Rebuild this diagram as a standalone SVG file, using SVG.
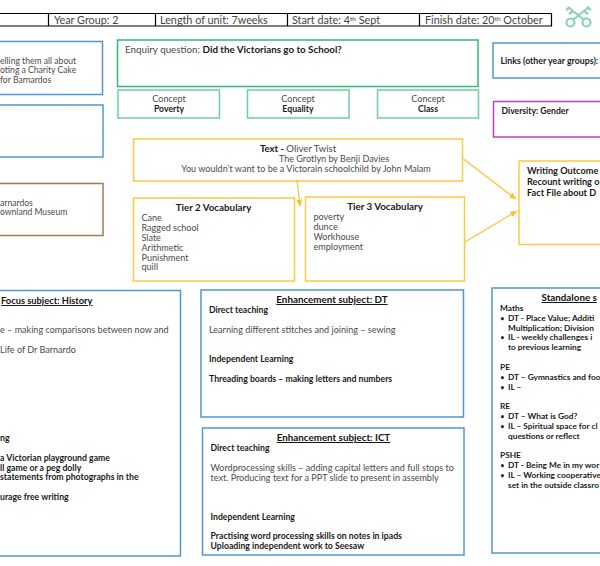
<svg xmlns="http://www.w3.org/2000/svg" width="600" height="566" viewBox="0 0 600 566">
<style>
text{font-family:"Lato","Open Sans","Liberation Sans",sans-serif;fill:#4a4a4a;font-size:9.05px}
.b{font-weight:700;fill:#1a1a1a;font-size:8.7px}
.u{text-decoration:underline;font-size:9.8px;font-weight:700;fill:#111}
.h{font-size:10.8px;fill:#444}
.m{text-anchor:middle}
.sup{font-size:6.5px}
.t{font-size:9.8px}
.w{font-size:9.2px}
.s{font-size:8.3px}
.l{font-size:8.6px}
.dot{font-size:6.5px}
.box{fill:#fff;stroke-width:1.5}
.blue{stroke:#4f97d3}.green{stroke:#2dbb72}.lg{stroke:#6fce9c}.yel{stroke:#fdc93f}.brown{stroke:#a07c52}.mag{stroke:#c03cc0}
.arrow{fill:none;stroke:#fcc02e;stroke-width:1.2;marker-end:url(#ah)}
.tline{fill:none;stroke:#000;stroke-width:1.2}
.logo{fill:none;stroke:#8fcfb8;stroke-width:2.2}
</style>
<defs><marker id="ah" markerWidth="8" markerHeight="7" refX="6.5" refY="3" orient="auto" markerUnits="userSpaceOnUse"><path d="M0 0L7 3L0 6z" fill="#fcc02e"/></marker></defs>
<rect width="600" height="566" fill="#fff"/>

<g id="header">
<path class="tline" d="M0 13.5H551.5V26H0M48.5 13.5V26M155.5 13.5V26M287.5 13.5V26M419.5 13.5V26"/>
<text class="h" x="54" y="24">Year Group: 2</text>
<text class="h" x="160" y="24">Length of unit: 7weeks</text>
<text class="h" x="292" y="24">Start date: 4<tspan class="sup" dy="-3">th</tspan><tspan dy="3"> Sept</tspan></text>
<text class="h" x="425" y="24">Finish date: 20<tspan class="sup" dy="-3">th</tspan><tspan dy="3"> October</tspan></text>
</g>

<g id="logo">
<circle class="logo" cx="570.5" cy="22.5" r="4"/><circle class="logo" cx="586.5" cy="22.5" r="4"/>
<path class="logo" d="M573.5 19.5L589 7M583.5 19.5L568 7M566 10L570 7M569 14L573 11M591 10L587 7M588 14L584 11"/>
</g>

<g id="hook"><rect class="box blue" x="-5" y="41.5" width="107.5" height="53"/>
<text class="l" x="0" y="64">elling them all about</text><text class="l" x="0" y="73">oting a Charity Cake</text><text class="l" x="0" y="83">for Barnardos</text></g>
<g id="box-left-2"><rect class="box blue" x="-5" y="105" width="108" height="52"/></g>
<g id="visits"><rect class="box brown" x="-5" y="183.5" width="108" height="52"/>
<text class="l" x="0" y="206">arnardos</text><text class="l" x="0" y="215">ownland Museum</text></g>

<g id="enquiry"><rect class="box green" x="117.5" y="40" width="360.5" height="46.5"/>
<text x="125" y="53" style="font-size:9.8px">Enquiry question: <tspan class="b" style="font-size:9.8px">Did the Victorians go to School?</tspan></text></g>
<g id="concept-poverty"><rect class="box lg" x="118" y="90" width="101.5" height="28"/>
<text class="m" x="169" y="102">Concept</text><text class="m b" x="169" y="112">Poverty</text></g>
<g id="concept-equality"><rect class="box lg" x="247.5" y="90" width="101.5" height="28"/>
<text class="m" x="298" y="102">Concept</text><text class="m b" x="298" y="112">Equality</text></g>
<g id="concept-class"><rect class="box lg" x="377.5" y="90" width="101" height="28"/>
<text class="m" x="428" y="102">Concept</text><text class="m b" x="428" y="112">Class</text></g>

<g id="links"><rect class="box blue" x="493" y="43" width="112" height="35"/>
<text class="b" x="500.5" y="64" style="font-size:8.8px">Links (other year groups):</text></g>
<g id="diversity"><rect class="box mag" x="493.5" y="101.5" width="112" height="35.5"/>
<text class="b" x="501.5" y="114" style="font-size:8.6px">Diversity: Gender</text></g>

<g id="text-box"><rect class="box yel" x="133.5" y="139" width="329" height="42"/>
<text class="m" x="298" y="152" style="font-size:9.6px"><tspan class="b" style="font-size:9.6px">Text  - </tspan>Oliver Twist</text>
<text class="m" x="334" y="162">The Grotlyn by Benji Davies</text>
<text class="m" x="306" y="172">You wouldn’t want to be a Victorain schoolchild by John Malam</text></g>

<g id="tier2"><rect class="box yel" x="133.5" y="198" width="161" height="83"/>
<text class="m b t" x="213.5" y="211">Tier 2 Vocabulary</text>
<text x="141.5" y="221">Cane</text><text x="141.5" y="231">Ragged school</text><text x="141.5" y="241">Slate</text><text x="141.5" y="251">Arithmetic</text><text x="141.5" y="261">Punishment</text><text x="141.5" y="270">quill</text></g>

<g id="tier3"><rect class="box yel" x="305.5" y="197" width="159" height="84"/>
<text class="m b t" x="385" y="210">Tier 3 Vocabulary</text>
<text x="313.5" y="220">poverty</text><text x="313.5" y="230">dunce</text><text x="313.5" y="240">Workhouse</text><text x="313.5" y="250">employment</text></g>

<g id="writing"><rect class="box yel" x="519" y="161" width="90" height="83.5"/>
<text class="b w" x="527" y="174">Writing Outcome</text><text class="b w" x="527" y="185">Recount writing o</text><text class="b w" x="527" y="196">Fact File about D</text></g>

<g id="connectors">
<path class="arrow" d="M463.5 159L516 199"/>
<path class="arrow" d="M465 242L517 211"/>
<path class="arrow" d="M297 180L300 206"/>
</g>

<g id="focus"><rect class="box blue" x="-5" y="290.5" width="185.5" height="265.5"/>
<text class="u" x="1" y="304" style="font-size:9.3px">Focus subject: History</text>
<text x="0" y="333">e – making comparisons between now and</text>
<text x="0" y="353">Life of Dr Barnardo</text>
<text class="b" x="0" y="441">ng</text>
<text class="b" x="0" y="461">a Victorian playground game</text>
<text class="b" x="0" y="470.500">ll game or a peg dolly</text>
<text class="b" x="0" y="480">statements from photographs in the</text>
<text class="b" x="0" y="500">urage free writing</text></g>

<g id="enh-dt"><rect class="box blue" x="201" y="290" width="262.5" height="127"/>
<text class="u m" x="332" y="303">Enhancement  subject: DT</text>
<text class="b" x="209" y="313">Direct teaching</text>
<text x="209" y="333">Learning different stitches and joining – sewing</text>
<text class="b" x="209" y="362">Independent Learning</text>
<text class="b" x="209" y="382">Threading boards – making letters and numbers</text></g>

<g id="enh-ict"><rect class="box blue" x="202.5" y="428" width="261.5" height="127"/>
<text class="u m" x="333.5" y="441">Enhancement  subject: ICT</text>
<text class="b" x="210.5" y="451">Direct teaching</text>
<text x="210.5" y="471">Wordprocessing skills – adding capital letters and full stops to</text>
<text x="210.5" y="481">text. Producing text for a PPT slide to present in assembly</text>
<text class="b" x="210.5" y="520">Independent Learning</text>
<text class="b" x="210.5" y="539">Practising word processing skills on notes in ipads</text>
<text class="b" x="210.5" y="549">Uploading independent work to Seesaw</text></g>

<g id="standalone"><rect class="box blue" x="492" y="288" width="115" height="265"/>
<text class="u" x="541.5" y="301">Standalone  s</text>
<text class="b s" x="500" y="311">Maths</text>
<text class="b dot" x="500.5" y="321">•</text><text class="b s" x="508" y="321">DT - Place Value; Additi</text>
<text class="b s" x="508" y="331">Multiplication; Division</text>
<text class="b dot" x="500.5" y="340">•</text><text class="b s" x="508" y="340">IL -  weekly challenges i</text>
<text class="b s" x="508" y="350">to previous learning</text>
<text class="b s" x="500" y="370">PE</text>
<text class="b dot" x="500.5" y="380">•</text><text class="b s" x="508" y="380">DT – Gymnastics and foo</text>
<text class="b dot" x="500.5" y="390">•</text><text class="b s" x="508" y="390">IL –</text>
<text class="b s" x="500" y="409">RE</text>
<text class="b dot" x="500.5" y="419">•</text><text class="b s" x="508" y="419">DT – What is God?</text>
<text class="b dot" x="500.5" y="429">•</text><text class="b s" x="508" y="429">IL – Spiritual space for cl</text>
<text class="b s" x="508" y="439">questions or reflect</text>
<text class="b s" x="500" y="458">PSHE</text>
<text class="b dot" x="500.5" y="468">•</text><text class="b s" x="508" y="468">DT - Being Me in my wor</text>
<text class="b dot" x="500.5" y="478">•</text><text class="b s" x="508" y="478">IL – Working cooperative</text>
<text class="b s" x="508" y="488">set in the outside classro</text>
</g>
</svg>
